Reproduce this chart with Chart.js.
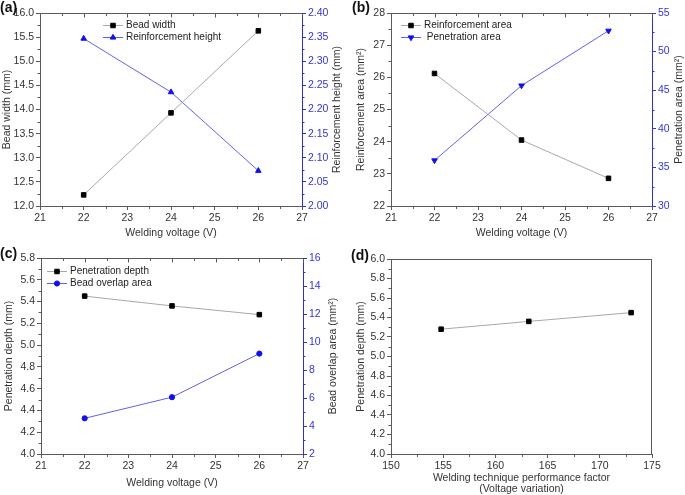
<!DOCTYPE html>
<html>
<head>
<meta charset="utf-8">
<script src="https://cdn.jsdelivr.net/npm/chart.js@4.4.1/dist/chart.umd.min.js"></script>
<style>
  html, body { margin: 0; padding: 0; background: #fff; }
  #wrap { position: relative; width: 685px; height: 495px; overflow: hidden; }
  canvas { position: absolute; }
  .lbl { position: absolute; font: bold 14px "Liberation Sans", Arial, sans-serif; color: #111; line-height: 14px; }
</style>
</head>
<body>
<div id="wrap">
  <canvas id="ca" width="342" height="245" style="left:0;top:0"></canvas>
  <canvas id="cb" width="343" height="245" style="left:342px;top:0"></canvas>
  <canvas id="cc" width="342" height="250" style="left:0;top:245px"></canvas>
  <canvas id="cd" width="343" height="250" style="left:342px;top:245px"></canvas>
  <div class="lbl" style="left:0;top:0">(a)</div>
  <div class="lbl" style="left:352px;top:0">(b)</div>
  <div class="lbl" style="left:0;top:246px">(c)</div>
  <div class="lbl" style="left:351px;top:248px">(d)</div>
</div>
<script>
// ---- data ----
const voltage = [22, 24, 26];
const beadWidth = [12.23, 13.93, 15.63];
const reinforcementHeight = [2.347, 2.236, 2.073];
const reinforcementArea = [26.12, 24.05, 22.86];
const penetrationArea = [35.9, 45.6, 52.7];
const penetrationDepth = [5.45, 5.36, 5.28];
const beadOverlapArea = [4.55, 6.06, 9.17];
const performanceFactor = [154.8, 163.2, 173.0];
const penetrationDepthD = [5.28, 5.36, 5.45];

const FONT = '"Liberation Sans", Arial, sans-serif';
const GREY = '#5a5a5a';
const TXT = '#333333';
const BLUE_AX = '#2f2fd6';
const BLUE_TXT = '#3535d0';
const LINE_GREY = '#a8a8a8';
const LINE_BLUE = '#6262e6';
const MK_BLACK = '#000000';
const MK_BLUE = '#1010ee';
const TITLE_SIZE = 10.5;

function pts(xs, ys) { return xs.map((x, i) => ({ x: x, y: ys[i] })); }

function ds(label, xs, ys, lineColor, markColor, style, radius, rot) {
  return {
    label: label, data: pts(xs, ys), showLine: true,
    borderColor: lineColor, borderWidth: 1,
    pointStyle: style, pointRadius: radius, pointHoverRadius: radius,
    pointRotation: rot || 0,
    pointBackgroundColor: markColor, pointBorderColor: markColor, pointBorderWidth: 1,
    yAxisID: 'y'
  };
}

function axis(opts) {
  const color = opts.color || GREY;
  const tcolor = opts.tcolor || TXT;
  return {
    type: 'linear', position: opts.position, min: opts.min, max: opts.max,
    offset: false,
    border: { display: true, color: color, width: 1 },
    grid: { drawOnChartArea: false, drawTicks: true, tickLength: 4, color: color, tickColor: color },
    ticks: {
      stepSize: opts.step, color: tcolor, padding: 2, autoSkip: false, maxRotation: 0,
      font: { family: FONT, size: 10.5 },
      callback: (v) => Number(v).toFixed(opts.dec)
    },
    title: {
      display: !!opts.title, text: opts.title, color: TXT,
      font: { family: FONT, size: TITLE_SIZE, lineHeight: opts.lh || 1.15 },
      padding: opts.tpad || { top: 0, bottom: 0 }
    },
    afterFit: (s) => { if (opts.w !== undefined) s.width = opts.w; if (opts.h !== undefined) s.height = opts.h; }
  };
}

const framePlugin = {
  id: 'frame',
  afterDraw(chart, args, o) {
    const { ctx, chartArea: ca, scales } = chart;
    ctx.save();
    ctx.lineWidth = 1;
    const R = Math.round(ca.right) - 0.5;
    const T = Math.round(ca.top) + 0.5;
    function ln(x1, y1, x2, y2, c) { ctx.strokeStyle = c; ctx.beginPath(); ctx.moveTo(x1, y1); ctx.lineTo(x2, y2); ctx.stroke(); }
    ln(ca.left, T, ca.right, T, GREY);
    if (o.rightBorder) ln(R, ca.top, R, ca.bottom, GREY);
    (o.minor || []).forEach(m => {
      const sc = scales[m.id];
      for (let v = sc.min + m.step / 2; v < sc.max; v += m.step) {
        const p = Math.round(sc.getPixelForValue(v)) + 0.5;
        if (sc.isHorizontal()) {
          const y = Math.round(sc.top) + 0.5;
          ln(p, y, p, y + 2.5, m.color || GREY);
        } else if (sc.position === 'left') {
          const x = Math.round(sc.right);
          ln(x, p, x - 2.5, p, m.color || GREY);
        } else {
          const x = Math.round(sc.left);
          ln(x, p, x + 2.5, p, m.color || GREY);
        }
      }
    });
    if (o.topTicks) {
      const sc = scales.x;
      const st = o.topTicks;
      let k = 0;
      for (let v = sc.min; v <= sc.max + 1e-9; v += st / 2, k++) {
        const p = Math.round(sc.getPixelForValue(v)) + 0.5;
        ln(p, T, p, T + (k % 2 === 0 ? 4 : 2.5), GREY);
      }
    }
    // right-axis title, reading bottom-to-top
    if (o.rightTitle) {
      ctx.save();
      ctx.font = TITLE_SIZE + 'px ' + FONT;
      ctx.fillStyle = TXT;
      ctx.textAlign = 'center';
      ctx.textBaseline = 'middle';
      ctx.translate(chart.width - o.rightTitleDx, (ca.top + ca.bottom) / 2);
      ctx.rotate(-Math.PI / 2);
      ctx.fillText(o.rightTitle, 0, 0);
      ctx.restore();
    }
    ctx.restore();
  }
};

const legendPlugin = {
  id: 'insetLegend',
  afterDraw(chart, args, o) {
    if (!o.show) return;
    const { ctx, chartArea: ca } = chart;
    ctx.save();
    ctx.font = '10px ' + FONT;
    ctx.textBaseline = 'middle';
    chart.data.datasets.forEach((d, i) => {
      const y = Math.round(ca.top + o.y + i * o.rowH) + 0.5;
      const x0 = Math.round(ca.left + o.x);
      ctx.strokeStyle = d.borderColor; ctx.lineWidth = 1;
      ctx.beginPath(); ctx.moveTo(x0, y); ctx.lineTo(x0 + o.len, y); ctx.stroke();
      ctx.fillStyle = d.pointBackgroundColor; ctx.strokeStyle = d.pointBorderColor;
      Chart.helpers.drawPoint(ctx, { pointStyle: d.pointStyle, radius: d.pointRadius, rotation: d.pointRotation, borderWidth: 1 }, x0 + o.len / 2, y);
      ctx.fillStyle = '#222';
      ctx.fillText(d.label, x0 + o.len + 3, y);
    });
    ctx.restore();
  }
};

Chart.register(framePlugin, legendPlugin);

function make(id, cfg) {
  return new Chart(document.getElementById(id), {
    type: 'scatter',
    data: { datasets: cfg.datasets },
    options: {
      responsive: false, devicePixelRatio: 1, animation: false,
      layout: { padding: cfg.padding },
      plugins: { legend: { display: false }, tooltip: { enabled: false },
        frame: cfg.frame, insetLegend: cfg.legend || { show: false } },
      scales: cfg.scales
    }
  });
}

// (a)
const dA1 = ds('Bead width', voltage, beadWidth, LINE_GREY, MK_BLACK, 'rect', 3.2);
const dA2 = ds('Reinforcement height', voltage, reinforcementHeight, LINE_BLUE, MK_BLUE, 'triangle', 3.2);
dA2.yAxisID = 'y2';
make('ca', {
  datasets: [dA1, dA2],
  padding: { top: 13, left: 0, right: 0, bottom: 0 },
  legend: { show: true, x: 63, y: 12, rowH: 12, len: 20 },
  frame: { minor: [{ id: 'x', step: 1 }, { id: 'y', step: 0.5 }, { id: 'y2', step: 0.05, color: BLUE_AX }], topTicks: 1,
    rightTitle: 'Reinforcement height (mm)', rightTitleDx: 5 },
  scales: {
    x: axis({ position: 'bottom', min: 21, max: 27, step: 1, dec: 0, title: 'Welding voltage (V)', h: 39, tpad: { top: 0, bottom: 6 } }),
    y: axis({ position: 'left', min: 12, max: 16, step: 0.5, dec: 1, title: 'Bead width (mm)', w: 40, tpad: { top: 1, bottom: 0 } }),
    y2: axis({ position: 'right', min: 2.0, max: 2.4, step: 0.05, dec: 2, w: 40, color: BLUE_AX, tcolor: BLUE_TXT })
  }
});

// (b)
const dB1 = ds('Reinforcement area', voltage, reinforcementArea, LINE_GREY, MK_BLACK, 'rect', 3.2);
const dB2 = ds(' Penetration area', voltage, penetrationArea, LINE_BLUE, MK_BLUE, 'triangle', 3.2, 180);
dB2.yAxisID = 'y2';
make('cb', {
  datasets: [dB1, dB2],
  padding: { top: 13, left: 0, right: 0, bottom: 0 },
  legend: { show: true, x: 10, y: 12, rowH: 11.5, len: 20 },
  frame: { minor: [{ id: 'x', step: 1 }, { id: 'y', step: 1 }, { id: 'y2', step: 5, color: BLUE_AX }], topTicks: 1,
    rightTitle: 'Penetration area (mm²)', rightTitleDx: 6 },
  scales: {
    x: axis({ position: 'bottom', min: 21, max: 27, step: 1, dec: 0, title: 'Welding voltage (V)', h: 39, tpad: { top: 0, bottom: 6 } }),
    y: axis({ position: 'left', min: 22, max: 28, step: 1, dec: 0, title: 'Reinforcement area (mm²)', w: 49, tpad: { top: 13, bottom: 0 } }),
    y2: axis({ position: 'right', min: 30, max: 55, step: 5, dec: 0, w: 33, color: BLUE_AX, tcolor: BLUE_TXT })
  }
});

// (c)
const dC1 = ds('Penetration depth', voltage, penetrationDepth, LINE_GREY, MK_BLACK, 'rect', 3.2);
const dC2 = ds('Bead overlap area', voltage, beadOverlapArea, LINE_BLUE, MK_BLUE, 'circle', 2.6);
dC2.yAxisID = 'y2';
make('cc', {
  datasets: [dC1, dC2],
  padding: { top: 13, left: 0, right: 0, bottom: 0 },
  legend: { show: true, x: 6, y: 13, rowH: 12, len: 20 },
  frame: { minor: [{ id: 'x', step: 1 }, { id: 'y', step: 0.2 }, { id: 'y2', step: 2, color: BLUE_AX }], topTicks: 1,
    rightTitle: 'Bead overlap area (mm²)', rightTitleDx: 9 },
  scales: {
    x: axis({ position: 'bottom', min: 21, max: 27, step: 1, dec: 0, title: 'Welding voltage (V)', h: 41, tpad: { top: 0, bottom: 6 } }),
    y: axis({ position: 'left', min: 4.0, max: 5.8, step: 0.2, dec: 1, title: 'Penetration depth (mm)', w: 41, tpad: { top: 3, bottom: 0 } }),
    y2: axis({ position: 'right', min: 2, max: 16, step: 2, dec: 0, w: 39, color: BLUE_AX, tcolor: BLUE_TXT })
  }
});

// (d)
const dD1 = ds('Penetration depth', performanceFactor, penetrationDepthD, LINE_GREY, MK_BLACK, 'rect', 3.2);
make('cd', {
  datasets: [dD1],
  padding: { top: 14, left: 0, right: 33, bottom: 0 },
  frame: { rightBorder: true, minor: [{ id: 'x', step: 5 }, { id: 'y', step: 0.2 }] },
  scales: {
    x: axis({ position: 'bottom', min: 150, max: 175, step: 5, dec: 0, title: ['Welding technique performance factor', '(Voltage variation)'], h: 41, lh: 1.1, tpad: { top: 0, bottom: 0 } }),
    y: axis({ position: 'left', min: 4.0, max: 6.0, step: 0.2, dec: 1, title: 'Penetration depth (mm)', w: 49, tpad: { top: 13, bottom: 0 } })
  }
});
</script>
</body>
</html>
